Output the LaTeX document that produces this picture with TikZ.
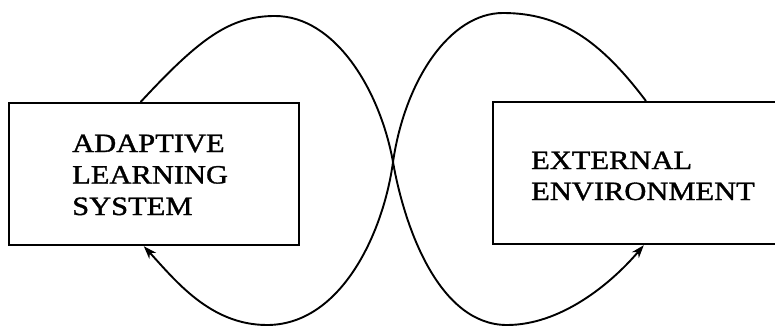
\documentclass[tikz,border=0pt]{standalone}
\usepackage{fontspec}
\setmainfont[FakeStretch=1.155,FakeBold=1.3]{Liberation Serif}
\usetikzlibrary{arrows.meta,calc}
\tikzset{
  boxnode/.style={draw, line width=2.4pt, rectangle, inner sep=0pt},
  label/.style={anchor=base west, inner sep=0pt, font=\fontsize{26.4}{31}\selectfont},
  flow/.style={line width=1.9pt, line cap=round},
  flowarrow/.style={flow, -{Stealth[length=13pt,width=9pt,inset=4pt]}}
}
\begin{document}
\begin{tikzpicture}[x=1pt,y=-1pt]
\useasboundingbox (0,0) rectangle (775,326);
\clip (0,0) rectangle (775,326);
\node[boxnode, minimum width=290pt, minimum height=142pt] (als) at (154,174) {};
\node[boxnode, minimum width=312pt, minimum height=142pt] (ee) at (649,173) {};
\node[label] (als1) at (72,152) {ADAPTIVE};
\node[label] (als2) at (72,183.5) {LEARNING};
\node[label] (als3) at (72,215) {SYSTEM};
\node[label] (ee1) at (531,169) {EXTERNAL};
\node[label] (ee2) at (531,200) {ENVIRONMENT};
\coordinate (a0) at ($(als.north west)+(133,0)$);
\coordinate (a1) at ($(ee.south west)+(152,0)$);
\coordinate (b0) at ($(ee.north west)+(154,0)$);
\coordinate (b1) at ($(als.south west)+(136,0)$);
\coordinate (x) at (393,162);
\draw[flowarrow] (a0) .. controls (200,38) and (230,16) .. (275,16)
  .. controls (335,16) and (380,90) .. (x)
  .. controls (405,230) and (440,325) .. (507,325)
  .. controls (560,325) and (610,285) .. (a1);
\draw[flowarrow] (b0) .. controls (600,40) and (560,13) .. (503,13)
  .. controls (450,13) and (405,80) .. (x)
  .. controls (383,235) and (340,325) .. (267,325)
  .. controls (210,325) and (175,280) .. (b1);
\end{tikzpicture}
\end{document}
